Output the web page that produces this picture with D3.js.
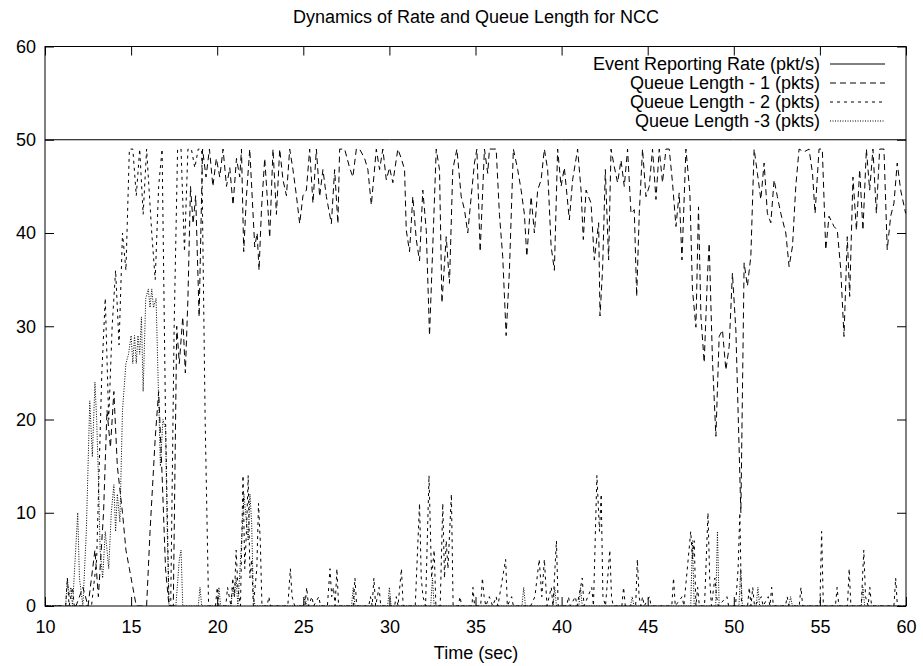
<!DOCTYPE html>
<html>
<head>
<meta charset="utf-8">
<script src="https://cdn.jsdelivr.net/npm/d3@7"></script>
<style>
  html, body { margin: 0; padding: 0; background: #fff; }
  svg { display: block; }
  text { font-family: "Liberation Sans", Arial, Helvetica, sans-serif; fill: #000; }
</style>
</head>
<body>
<svg id="chart" width="923" height="666"></svg>
<script>
// ---------------- DATA ----------------
const chartTitle = "Dynamics of Rate and Queue Length for NCC";
const xLabel = "Time (sec)";
const xTicks = [10, 15, 20, 25, 30, 35, 40, 45, 50, 55, 60];
const yTicks = [0, 10, 20, 30, 40, 50, 60];
const seriesNames = ["Event Reporting Rate (pkt/s)", "Queue Length - 1 (pkts)", "Queue Length - 2 (pkts)", "Queue Length -3 (pkts)"];

// Event reporting rate (constant)
const rateTimes  = [10, 20, 30, 40, 50, 60];
const rateValues = [50, 50, 50, 50, 50, 50];

// Queue Length - 1
const q1Times = [10, 11.0, 11.8, 12.2, 12.5, 12.9, 13.1, 13.4, 13.6, 13.8, 14.0, 14.2, 14.5, 14.7, 14.9, 15.1, 15.3, 15.6, 15.9, 16.1, 16.4, 16.6, 16.8, 17.0, 17.2, 17.45, 17.65, 17.8, 18.0, 18.15, 18.3, 18.45, 18.6, 18.75, 18.95, 19.15, 19.35, 19.55, 19.75, 19.95,
  20.15, 20.34, 20.54, 20.73, 20.92, 21.12, 21.31, 21.41, 21.54, 21.70, 21.89, 22.18, 22.32, 22.43, 22.57, 22.76, 22.9, 23.05, 23.24, 23.44, 23.63, 23.82, 24.02, 24.21, 24.4, 24.6, 24.79, 24.98, 25.18, 25.37, 25.56, 25.76, 25.95, 26.14, 26.34, 26.63, 26.82, 27.01, 27.11, 27.4, 27.69, 27.88, 28.08, 28.27, 28.56, 28.75, 28.95, 29.24, 29.43, 29.62, 29.82, 30.01, 30.2, 30.49, 30.69, 30.88, 30.98, 31.17, 31.36, 31.56, 31.75, 31.94, 32.14, 32.33, 32.52, 32.72, 32.91, 33.05, 33.3, 33.49, 33.68, 33.92, 34.17, 34.36, 34.55, 34.75, 34.94, 35.08, 35.27, 35.52, 35.71, 35.81, 36.2, 36.39, 36.58, 36.78, 36.97, 37.2, 37.45, 37.65, 37.84, 37.98, 38.23, 38.42, 38.61, 38.81, 39.0, 39.19, 39.39, 39.58, 39.77,
  39.97, 40.16, 40.45, 40.64, 40.93, 41.13, 41.26, 41.42, 41.71, 41.9, 42.15, 42.23, 42.38, 42.54, 42.73, 42.87, 43.06, 43.25, 43.45, 43.64, 43.83, 44.03, 44.22, 44.36, 44.51, 44.7, 44.9, 45.09, 45.28, 45.48, 45.67, 45.86, 46.06, 46.25, 46.44, 46.64, 46.83, 46.99, 47.22, 47.45, 47.6, 47.8, 47.95, 48.09, 48.28, 48.47, 48.57, 48.76, 48.96, 49.15, 49.34, 49.54, 49.73, 49.92, 50.12, 50.41, 50.6, 50.79, 50.99, 51.18, 51.37, 51.57, 51.76, 51.95, 52.15, 52.34, 52.53, 52.73, 53.02, 53.21, 53.41, 53.6, 53.79, 54.08, 54.37, 54.57, 54.72, 54.95, 55.14, 55.34, 55.53, 55.82, 56.01, 56.21, 56.4, 56.59, 56.73, 56.92, 57.12, 57.31, 57.5, 57.7, 57.89, 58.08, 58.28, 58.47, 58.72, 58.91, 59.11, 59.3, 59.49, 59.69, 59.98];
const q1Values = [0, 0, 0, 2, 0, 6, 1, 10, 21, 17, 23, 15, 10, 6, 4, 2, 0, 0, 0, 8, 18, 23, 14, 4, 0, 0, 30, 26, 31, 25, 33, 45, 41, 44, 31, 49, 46, 49, 45, 48,
  46, 49, 45, 47, 43, 48, 46, 49, 38, 44, 49, 38.5, 40, 36, 42.5, 48, 44, 39.5, 49, 42, 49, 45.7, 44, 49, 46.8, 44, 41, 44, 44.6, 49, 43.2, 49, 43.9, 46.8, 43.9, 41, 46.8, 41, 49, 49, 47, 46, 49, 49, 48, 46.8, 43, 49, 46.8, 49, 45.7, 47, 45.4, 49, 48, 46.8, 40.3, 38, 43.9, 39.3, 37, 44.6, 40.3, 29, 38.6, 49, 46.8, 32.5, 39.6, 34.6, 46.8, 49, 43.9, 42.5, 40, 43.9, 47.5, 49, 38, 49, 46.4, 49, 49, 42, 37.5, 29, 36, 49, 46.8, 44.6, 42, 37.5, 43.9, 40, 44.6, 45.7, 49, 46.8, 38.6, 36, 49,
  45, 47, 41.4, 45.7, 49, 44.6, 39.3, 44.6, 43.2, 37.1, 41.1, 31.1, 36.1, 46.8, 37.1, 49, 47.1, 45.4, 47.8, 45, 49, 42.1, 42.5, 33.2, 42.1, 49, 43.9, 45, 49, 43.6, 49, 45.4, 49, 49, 45.4, 40.7, 44.3, 37.1, 49, 44.3, 33.9, 29.9, 42.8, 31.1, 26.1, 35.4, 38.9, 26.4, 18.2, 28.9, 29.6, 25.3, 27.8, 35.7, 29.6, 10, 36.8, 34.3, 37.5, 49, 46.4, 43.6, 47.5, 42.1, 41.1, 45.7, 43.9, 42.1, 40, 36.4, 38.6, 45, 49, 48.7, 49, 46.4, 42.1, 49, 49, 38.2, 41.8, 40.7, 40.3, 36.1, 28.9, 39.6, 33.2, 46, 40.3, 46.8, 40.3, 49, 44.6, 49, 42.1, 49, 49, 38.2, 41.8, 43.2, 47.5, 44.6, 42.1];

// Queue Length - 2
const q2Times = [10, 11.2, 11.3, 11.4, 11.6, 11.7, 12.7, 13.0, 13.3, 13.5, 13.7, 13.9, 14.1, 14.3, 14.5, 14.7, 14.9, 15.1, 15.3, 15.5, 15.7, 15.9, 16.2, 16.4, 16.6, 16.8, 17.0, 17.2, 17.3, 17.5, 17.7, 17.9, 18.1, 18.3, 18.5, 18.7, 18.9, 19.1, 19.3, 19.5,
  19.9, 20.0, 20.1, 20.5, 20.6, 20.8, 20.9, 21.0, 21.1, 21.2, 21.35, 21.5, 21.6, 21.7, 21.8, 21.9, 22.0, 22.1, 22.3, 22.4, 22.5, 22.6, 22.9, 23.0, 23.1, 24.1, 24.25, 24.35, 24.5, 25.1, 25.2, 25.3, 25.5, 25.6, 25.9, 26.0, 26.4, 26.55, 26.65, 26.75, 26.85, 26.95, 27.05, 27.9, 28.0, 28.1, 28.8, 28.9, 29.0, 29.1, 29.2, 29.4, 29.5, 30.3, 30.4, 30.5, 30.7, 30.8, 31.5, 31.75, 31.85, 31.95, 32.1, 32.3, 32.45, 32.6, 32.7, 32.95, 33.1, 33.2, 33.3, 33.4, 33.6, 33.7, 34.0, 34.1, 34.2, 34.8, 34.85, 34.95, 35.3, 35.4, 35.5, 35.6, 35.8, 36.0, 36.2, 36.3, 36.75, 36.85, 37.1, 37.2, 38.2, 38.45, 38.7, 38.85, 39.0, 39.15, 39.4, 39.5, 39.7, 39.8,
  40.3, 40.4, 40.5, 40.8, 40.9, 41.2, 41.3, 41.75, 41.85, 42.05, 42.2, 42.3, 42.4, 42.55, 42.8, 42.9, 43.0, 43.5, 43.6, 43.7, 44.3, 44.4, 44.5, 44.6, 44.7, 44.8, 45.1, 45.2, 46.4, 46.5, 46.6, 47.0, 47.1, 47.5, 47.6, 47.7, 47.8, 47.9, 48.0, 48.3, 48.5, 48.6, 48.7, 48.9, 49.0, 49.1, 49.6, 49.7, 50.1, 50.25, 50.35, 50.45, 50.8, 50.9, 51.0, 51.1, 51.2, 51.6, 51.7, 52.0, 52.1, 52.2, 52.3, 53.0, 53.1, 53.2, 53.8, 53.9, 54.0, 55.0, 55.1, 55.2, 55.9, 56.0, 56.1, 56.6, 56.7, 56.8, 57.4, 57.55, 57.65, 57.8, 57.9, 58.0, 59.3, 59.4, 59.5, 60];
const q2Values = [0, 0, 3, 0, 2, 0, 0, 5, 25, 33, 20, 30, 36, 28, 40, 36, 49, 49, 44, 49, 42, 49, 40, 35, 45, 49, 20, 0, 0, 30, 49, 49, 38, 49, 49, 47, 49, 49, 20, 0,
  0, 2, 0, 0, 2, 0, 3, 1, 6, 2, 0, 14, 4, 8, 14, 3, 5, 0, 4, 11, 7, 0, 0, 1, 0, 0, 4, 1, 0, 0, 2, 0, 1, 0, 1, 0, 0, 4, 1, 2, 0, 4, 0, 0, 3, 0, 0, 1, 0, 3, 0, 2, 0, 0, 1, 0, 4, 0, 0, 11, 3, 1, 0, 14, 3, 6, 0, 0, 11, 3, 7, 4, 12, 0, 0, 1, 0, 0, 2, 0, 0, 3, 1, 0, 1, 0, 1, 0, 5, 0, 1, 0, 0, 1, 5, 1, 5, 0, 2, 0, 7, 0,
  0, 1, 0, 1, 0, 3, 0, 2, 0, 14, 8, 12, 1, 0, 6, 1, 0, 0, 2, 0, 0, 5, 1, 0, 1, 0, 1, 0, 0, 3, 0, 1, 0, 8, 5, 7, 0, 2, 0, 0, 10, 3, 0, 3, 1, 0, 1, 0, 0, 4, 10, 0, 0, 2, 0, 2, 0, 1, 0, 1, 0, 2, 0, 0, 1, 0, 0, 2, 0, 0, 8, 0, 0, 2, 0, 0, 4, 0, 0, 6, 1, 0, 2, 0, 0, 3, 0, 0];

// Queue Length -3
const q3Times = [10, 11.2, 11.3, 11.4, 11.5, 11.6, 11.9, 12.0, 12.2, 12.4, 12.6, 12.75, 12.9, 13.0, 13.1, 13.2, 13.35, 13.5, 13.7, 13.85, 14.0, 14.1, 14.2, 14.35, 14.5, 14.7, 14.85, 15.0, 15.1, 15.2, 15.3, 15.4, 15.5, 15.6, 15.7, 15.85, 16.0, 16.1, 16.2, 16.3, 16.45, 16.6, 16.7, 16.85, 17.0, 17.1, 17.2, 17.6, 17.8, 17.9, 18.0, 18.9, 19.0, 19.1, 20.0, 20.1, 20.2, 20.8, 20.9, 21.0, 21.1, 21.2, 21.45, 21.55, 21.65, 21.8, 21.9, 22.0, 22.1, 22.2,
  25.0, 25.1, 25.2, 27.8, 27.9, 28.0, 29.9, 30.0, 30.1, 32.4, 32.5, 32.6, 37.7, 37.8, 37.9, 39.5, 39.6, 39.7, 41.0, 41.1, 41.2, 44.0, 44.1, 44.2, 47.5, 47.6, 47.7, 48.95, 49.05, 49.15, 50.3, 50.4, 50.5, 51.3, 51.4, 51.5, 53.2, 53.3, 53.4, 57.4, 57.5, 57.6, 60];
const q3Values = [0, 0, 3, 1, 2, 0, 10, 3, 0, 8, 22, 16, 24, 20, 14, 6, 3, 8, 4, 10, 13, 8, 12, 9, 21, 26, 27, 29, 26, 29, 26, 29, 27, 31, 23, 33, 34, 32, 34, 32, 33, 22, 15, 20, 19, 8, 0, 0, 5, 6, 0, 0, 2, 0, 0, 2, 0, 0, 2, 1, 3, 0, 8, 12, 10, 7, 12, 9, 1, 0,
  0, 1, 0, 0, 2, 0, 0, 2, 0, 0, 3, 0, 0, 2, 0, 0, 2, 0, 0, 2, 0, 0, 1, 0, 0, 7, 0, 0, 8, 0, 0, 4, 0, 0, 2, 0, 0, 1, 0, 0, 2, 0, 0];

// ---------------- DRAW ----------------
const svg = d3.select("#chart");
const W = 923, H = 666;
const plot = { left: 45, right: 906, top: 46.5, bottom: 606 };

const x = d3.scaleLinear().domain([10, 60]).range([plot.left, plot.right]);
const y = d3.scaleLinear().domain([0, 60]).range([plot.bottom, plot.top]);

const series = [
  { name: seriesNames[0], t: rateTimes, v: rateValues, dash: null },
  { name: seriesNames[1], t: q1Times, v: q1Values, dash: "6,4" },
  { name: seriesNames[2], t: q2Times, v: q2Values, dash: "3,4" },
  { name: seriesNames[3], t: q3Times, v: q3Values, dash: "1,1.5" }
];

svg.append("rect").attr("width", W).attr("height", H).attr("fill", "#fff");

// clip
svg.append("clipPath").attr("id", "clip").append("rect")
  .attr("x", plot.left).attr("y", plot.top)
  .attr("width", plot.right - plot.left).attr("height", plot.bottom - plot.top);

const line = d3.line().x(d => x(d[0])).y(d => y(d[1]));
const lines = svg.append("g").attr("clip-path", "url(#clip)");

// draw queues first, rate last
[3, 2, 1, 0].forEach(i => {
  const s = series[i];
  const pts = s.t.map((t, k) => [t, s.v[k]]);
  lines.append("path")
    .datum(pts)
    .attr("d", line)
    .attr("fill", "none")
    .attr("stroke", "#000")
    .attr("stroke-width", 1)
    .attr("stroke-dasharray", s.dash);
});

// axes (inward ticks, mirrored)
const tickLen = 9;
const fontSize = 18;
function styleAxis(g, labels) {
  g.select(".domain").remove();
  g.selectAll(".tick line").attr("stroke", "#000").attr("stroke-width", 1);
  g.selectAll("text").style("font-size", fontSize + "px").style("font-family", '"Liberation Sans", Arial, sans-serif').attr("fill", "#000");
  if (!labels) g.selectAll("text").remove();
}

svg.append("g").attr("transform", `translate(0,${plot.bottom})`)
  .call(d3.axisBottom(x).tickValues(xTicks).tickSizeInner(-tickLen).tickSizeOuter(0).tickPadding(14).tickFormat(d3.format("d")))
  .call(g => styleAxis(g, true));
svg.append("g").attr("transform", `translate(0,${plot.top})`)
  .call(d3.axisTop(x).tickValues(xTicks).tickSizeInner(-tickLen).tickSizeOuter(0))
  .call(g => styleAxis(g, false));
svg.append("g").attr("transform", `translate(${plot.left},0)`)
  .call(d3.axisLeft(y).tickValues(yTicks).tickSizeInner(-tickLen).tickSizeOuter(0).tickPadding(9).tickFormat(d3.format("d")))
  .call(g => styleAxis(g, true));
svg.append("g").attr("transform", `translate(${plot.right},0)`)
  .call(d3.axisRight(y).tickValues(yTicks).tickSizeInner(-tickLen).tickSizeOuter(0))
  .call(g => styleAxis(g, false));

// frame
svg.append("rect")
  .attr("x", plot.left).attr("y", plot.top)
  .attr("width", plot.right - plot.left).attr("height", plot.bottom - plot.top)
  .attr("fill", "none").attr("stroke", "#000").attr("stroke-width", 1);

// title & axis label
svg.append("text").attr("x", 476).attr("y", 23).attr("text-anchor", "middle")
  .style("font-size", fontSize + "px").text(chartTitle);
svg.append("text").attr("x", 476).attr("y", 659).attr("text-anchor", "middle")
  .style("font-size", fontSize + "px").text(xLabel);

// legend
const legendY = [64, 83, 102, 121];
const leg = svg.append("g");
series.forEach((s, i) => {
  leg.append("text").attr("x", 820).attr("y", legendY[i]).attr("dy", "0.35em")
    .attr("text-anchor", "end").style("font-size", fontSize + "px").text(s.name);
  leg.append("line").attr("x1", 830).attr("x2", 885).attr("y1", legendY[i]).attr("y2", legendY[i])
    .attr("stroke", "#000").attr("stroke-width", 1).attr("stroke-dasharray", s.dash);
});
</script>
</body>
</html>
